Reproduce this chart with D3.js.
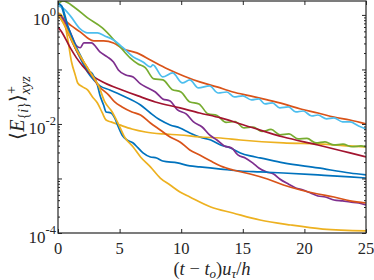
<!DOCTYPE html>
<html>
<head>
<meta charset="utf-8">
<script src="https://cdn.jsdelivr.net/npm/d3@7"></script>
<style>
    body { margin: 0; background: #fff; }
    text { font-family: "Liberation Serif", "Times New Roman", serif; fill: #262626; }
</style>
</head>
<body>
<div id="chart"></div>
<script>
// axis values
const xTicks = [0, 5, 10, 15, 20, 25];
const yTickLabels = [[1, "0"], [1e-2, "-2"], [1e-4, "-4"]];
const xDomain = [0, 25];
const yDomain = [1e-4, 1.8];

// series, [t, E] pairs
const blueUpper = [[0,1.59],[0.25,1.46],[0.8,0.531],[1.4,0.248],[2,0.132],[2.4,0.09],[2.9,0.0642],[3.4,0.0498],[4.2,0.0421],[5.3,0.0327],[6.7,0.0223],[7.5,0.0159],[8.3,0.0118],[9.1,0.0096],[9.9,0.00845],[10.7,0.00684],[11.5,0.00577],[12.4,0.00508],[13.2,0.00412],[14,0.00363],[14.8,0.00294],[15.6,0.00259],[16.4,0.00238],[18.3,0.00193],[21.1,0.00156],[23.7,0.00126],[25,0.00116]];
const orangeUpper = [[0,0.96],[0.6,0.776],[1.1,0.628],[1.8,0.488],[2.4,0.378],[2.9,0.333],[3.7,0.333],[4.5,0.306],[5.3,0.238],[6.4,0.201],[7.5,0.149],[8.9,0.102],[10.2,0.076],[11.5,0.059],[12.9,0.0478],[14.2,0.0386],[15.6,0.0327],[17,0.0276],[18.3,0.0233],[19.7,0.0188],[21.1,0.0159],[22.4,0.0134],[23.7,0.0118],[25,0.01]];
const yellowUpper = [[0,1.09],[0.4,0.92],[0.8,0.348],[1.1,0.137],[1.4,0.0793],[1.6,0.0565],[2,0.0478],[2.4,0.0421],[2.8,0.0313],[3.2,0.0243],[3.6,0.0159],[3.9,0.0118],[4.3,0.0109],[5,0.0096],[6,0.0081],[7.1,0.00713],[8.5,0.00656],[9.9,0.00628],[11.5,0.00577],[13.2,0.00553],[14.8,0.00508],[18.3,0.00448],[21.1,0.0043],[23.7,0.00395],[25,0.00378]];
const purple = [[0,1.04],[0.3,0.92],[1,0.48],[1.5,0.27],[1.8,0.25],[2.1,0.306],[2.7,0.306],[3.4,0.21],[4,0.17],[4.5,0.137],[4.9,0.098],[5.5,0.0793],[6.1,0.0728],[6.7,0.0542],[7.3,0.0458],[7.9,0.0386],[8.5,0.0288],[9.1,0.0264],[9.7,0.0181],[10.4,0.0153],[11,0.0109],[11.7,0.0088],[12.3,0.00628],[12.9,0.00508],[13.5,0.00395],[14.1,0.00363],[14.6,0.0027],[15.2,0.00238],[15.8,0.00193],[16.3,0.00156],[16.9,0.00132],[17.5,0.00121],[18,0.00098],[18.7,0.00079],[19.3,0.00067],[19.9,0.000615],[20.5,0.000542],[21.1,0.000478],[21.7,0.000458],[22.4,0.000403],[23.1,0.000387],[23.7,0.00037],[24.4,0.000355],[25,0.000327]];
const green = [[0,1.59],[0.4,1.8],[1.4,1.34],[2.4,0.88],[3.6,0.577],[4.9,0.282],[5.85,0.163],[6.5,0.126],[7.06,0.109],[7.79,0.067],[8.52,0.0642],[9.25,0.043],[9.98,0.0386],[10.71,0.0253],[11.44,0.0233],[12.18,0.0153],[12.91,0.0143],[13.64,0.01066],[14.37,0.0111],[15.1,0.00845],[15.83,0.0088],[16.56,0.00728],[17.29,0.00793],[18.02,0.00634],[18.75,0.00656],[19.48,0.00531],[20.21,0.00542],[20.94,0.00448],[21.67,0.00468],[22.4,0.00412],[23.13,0.00426],[23.86,0.00382],[24.59,0.00395],[25,0.00378]];
const lightBlue = [[0,1.46],[0.4,1.34],[1,0.96],[1.8,0.553],[2.4,0.468],[3.2,0.468],[3.8,0.412],[4.5,0.348],[5.3,0.248],[6.1,0.17],[6.9,0.137],[7.5,0.111],[7.7,0.121],[8.5,0.0728],[9.3,0.0863],[10.1,0.0565],[10.7,0.0642],[11.4,0.0458],[12.3,0.0498],[13,0.037],[13.7,0.0386],[14.3,0.0313],[15,0.0327],[15.7,0.0276],[16.3,0.0288],[16.8,0.0233],[17.4,0.0243],[18,0.0197],[18.7,0.0205],[19.3,0.0166],[19.9,0.0173],[20.6,0.014],[21.1,0.0146],[21.8,0.0124],[22.4,0.0129],[23.1,0.0109],[23.7,0.0109],[24.4,0.0092],[25,0.0081]];
const darkRed = [[0,0.6],[0.3,0.488],[1,0.248],[1.5,0.163],[2,0.116],[2.8,0.076],[3.8,0.0565],[5.2,0.0421],[6.5,0.0327],[7.9,0.0253],[9.9,0.0197],[11.5,0.0159],[13.2,0.0129],[15.6,0.0088],[18.3,0.00577],[21.1,0.00412],[23.7,0.00294],[25,0.00248]];
const blueLower = [[0,1.66],[0.3,1.46],[0.8,0.628],[1.4,0.282],[2,0.149],[2.4,0.098],[2.8,0.0826],[3.2,0.052],[3.4,0.0341],[3.7,0.0223],[3.9,0.0166],[4.3,0.0159],[4.6,0.0129],[4.9,0.0088],[5.2,0.00628],[5.6,0.00508],[6.1,0.00448],[6.5,0.00363],[6.9,0.00294],[7.5,0.00248],[8,0.00238],[8.5,0.00209],[9.7,0.00193],[10.7,0.0017],[11.5,0.00163],[13.2,0.00149],[14.8,0.00137],[16.4,0.00132],[18.3,0.00126],[21.1,0.00116],[23.7,0.00107],[25,0.00102]];
const orangeLower = [[0,1.0],[0.4,0.744],[1,0.378],[1.6,0.201],[2.4,0.107],[3.3,0.0498],[4.1,0.0341],[4.6,0.0253],[5.2,0.0205],[6,0.0166],[6.7,0.0146],[7.5,0.0104],[8.3,0.00776],[9.1,0.00577],[9.9,0.00468],[10.7,0.00333],[11.5,0.0027],[12.4,0.00209],[13.2,0.0017],[14.2,0.00143],[15.6,0.00121],[17,0.00098],[18.3,0.00076],[19.7,0.000615],[21.1,0.00052],[22.4,0.000458],[23.7,0.000387],[25,0.000355]];
const yellowLower = [[0,1.04],[0.65,0.577],[1.3,0.282],[2,0.149],[2.6,0.09],[3.3,0.0498],[3.8,0.0253],[4.4,0.0166],[4.9,0.01],[5.4,0.00577],[6.1,0.00378],[6.7,0.00248],[7.5,0.00163],[8.3,0.00102],[9.1,0.00076],[9.9,0.000565],[10.7,0.000458],[12.4,0.0003],[14.2,0.000233],[16.4,0.000173],[18.9,0.00014],[21.5,0.000118],[25,0.000109]];

const seriesList = [blueUpper, orangeUpper, yellowUpper, purple, green, lightBlue, darkRed, blueLower, orangeLower, yellowLower];
const seriesColors = ["#0072BD", "#D95319", "#EDB120", "#7E2F8E", "#77AC30", "#4DBEEE", "#A2142F", "#0072BD", "#D95319", "#EDB120"];

let settings = {
    width: 374,
    height: 280,
    left: 58,
    right: 366,
    top: 1,
    bottom: 233,
    axis_color: "#262626",
};

let svg = d3.select("#chart").append("svg")
    .attr("width", settings.width)
    .attr("height", settings.height);

let x = d3.scaleLinear().domain(xDomain).range([settings.left, settings.right]);
let y = d3.scaleLog().domain(yDomain).range([settings.bottom, settings.top]);

svg.append("defs").append("clipPath").attr("id", "plotclip")
    .append("rect")
    .attr("x", settings.left).attr("y", settings.top)
    .attr("width", settings.right - settings.left)
    .attr("height", settings.bottom - settings.top);

// lines
let line = d3.line()
    .x(d => x(d[0]))
    .y(d => y(d[1]))
    .curve(d3.curveMonotoneX);

svg.append("g")
    .attr("clip-path", "url(#plotclip)")
    .selectAll("path")
    .data(seriesList)
    .enter().append("path")
    .attr("fill", "none")
    .attr("stroke", (d, i) => seriesColors[i])
    .attr("stroke-width", 1.7)
    .attr("stroke-linejoin", "round")
    .attr("d", line);

// ticks
let majorY = [1, 1e-1, 1e-2, 1e-3, 1e-4];
let minorY = [];
for (let e = -4; e <= 0; e++) {
    for (let m = 2; m <= 9; m++) {
        let v = m * Math.pow(10, e);
        if (v <= yDomain[1]) minorY.push(v);
    }
}

function styleAxis(g) {
    g.select(".domain").remove();
    g.selectAll("line").attr("stroke", settings.axis_color).attr("stroke-width", 1);
    g.selectAll("text").remove();
}

svg.append("g").attr("transform", "translate(0," + settings.bottom + ")")
    .call(d3.axisBottom(x).tickValues(xTicks).tickSize(-4)).call(styleAxis);
svg.append("g").attr("transform", "translate(0," + settings.top + ")")
    .call(d3.axisTop(x).tickValues(xTicks).tickSize(-4)).call(styleAxis);
svg.append("g").attr("transform", "translate(" + settings.left + ",0)")
    .call(d3.axisLeft(y).tickValues(majorY).tickSize(-4)).call(styleAxis);
svg.append("g").attr("transform", "translate(" + settings.left + ",0)")
    .call(d3.axisLeft(y).tickValues(minorY).tickSize(-2)).call(styleAxis);
svg.append("g").attr("transform", "translate(" + settings.right + ",0)")
    .call(d3.axisRight(y).tickValues(majorY).tickSize(-4)).call(styleAxis);
svg.append("g").attr("transform", "translate(" + settings.right + ",0)")
    .call(d3.axisRight(y).tickValues(minorY).tickSize(-2)).call(styleAxis);

// box
svg.append("rect")
    .attr("x", settings.left).attr("y", settings.top)
    .attr("width", settings.right - settings.left)
    .attr("height", settings.bottom - settings.top)
    .attr("fill", "none")
    .attr("stroke", settings.axis_color)
    .attr("stroke-width", 1.2);

// tick labels
svg.append("g").selectAll("text")
    .data(xTicks)
    .enter().append("text")
    .attr("x", d => x(d))
    .attr("y", settings.bottom + 21)
    .attr("text-anchor", "middle")
    .attr("font-size", 16.5)
    .text(d => d);

let ylabels = svg.append("g").selectAll("text")
    .data(yTickLabels)
    .enter().append("text")
    .attr("x", 56)
    .attr("y", d => y(d[0]) + 10)
    .attr("text-anchor", "end")
    .attr("font-size", 17);
ylabels.append("tspan").text("10");
ylabels.append("tspan").attr("font-size", 12.5).attr("dy", -9).text(d => d[1]);

// axis titles
let xl = svg.append("text")
    .attr("x", 212).attr("y", 275)
    .attr("text-anchor", "middle")
    .attr("font-size", 18.5);
xl.append("tspan").text("(");
xl.append("tspan").attr("font-style", "italic").text("t");
xl.append("tspan").text(" \u2212 ");
xl.append("tspan").attr("font-style", "italic").text("t");
xl.append("tspan").attr("font-style", "italic").attr("font-size", 13).attr("dy", 3).text("o");
xl.append("tspan").attr("dy", -3).text(")");
xl.append("tspan").attr("font-style", "italic").text("u");
xl.append("tspan").attr("font-style", "italic").attr("font-size", 13).attr("dy", 3).text("\u03c4");
xl.append("tspan").attr("dy", -3).text("/");
xl.append("tspan").attr("font-style", "italic").text("h");

let yl = svg.append("text")
    .attr("transform", "translate(24,108) rotate(-90)")
    .attr("text-anchor", "middle")
    .attr("font-size", 20);
yl.append("tspan").text("\u27e8");
yl.append("tspan").attr("font-style", "italic").text("E");
yl.append("tspan").attr("font-size", 14).attr("dy", 4).text("{");
yl.append("tspan").attr("font-size", 14).attr("font-style", "italic").text("i");
yl.append("tspan").attr("font-size", 14).text("}");
yl.append("tspan").attr("dy", -4).text("\u27e9");
yl.append("tspan").attr("font-size", 14).attr("dy", -8).text("+");
yl.append("tspan").attr("font-size", 14).attr("font-style", "italic").attr("dx", -8).attr("dy", 14).text("xyz");
</script>
</body>
</html>
